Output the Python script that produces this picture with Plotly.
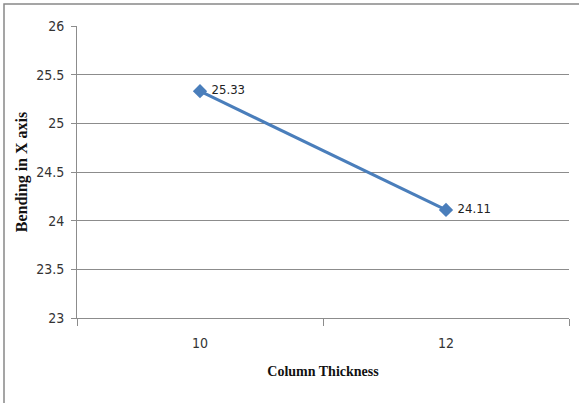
import plotly.graph_objects as go

# Column thickness categories and the bending values measured along X
thickness = ["10", "12"]
bending_x = [25.33, 24.11]
label_text = ["25.33", "24.11"]

y_ticks = [23, 23.5, 24, 24.5, 25, 25.5, 26]

line_blue = "#4A7EBB"
grid_gray = "#8C8C8C"
label_font = "DejaVu Sans Condensed, Liberation Sans Narrow, Arial Narrow, sans-serif"
title_font = "Liberation Serif, Times New Roman, serif"

fig = go.Figure()
fig.add_trace(go.Scatter(
    x=thickness,
    y=bending_x,
    mode="lines+markers+text",
    text=[" " + t for t in label_text],
    textposition="middle right",
    textfont=dict(family=label_font, size=13, color="#222222"),
    line=dict(color=line_blue, width=3),
    marker=dict(symbol="diamond", size=11, color=line_blue),
    cliponaxis=False,
    showlegend=False,
))

fig.update_layout(
    width=579,
    height=403,
    margin=dict(l=77, r=10, t=26, b=85),
    paper_bgcolor="white",
    plot_bgcolor="white",
    font=dict(family=label_font, size=13, color="#333333"),
    xaxis=dict(
        type="category",
        range=[-0.5, 1.5],
        tickson="boundaries",
        ticks="outside",
        ticklen=7,
        tickcolor=grid_gray,
        ticklabelstandoff=12,
        showline=True,
        linecolor=grid_gray,
        linewidth=1,
        showgrid=False,
        tickfont=dict(size=14),
        title=dict(
            text="Column Thickness",
            font=dict(family=title_font, size=14, color="#111111", weight="bold"),
            standoff=16,
        ),
    ),
    yaxis=dict(
        range=[23, 26],
        tickvals=y_ticks,
        ticktext=[f"{v:g}" for v in y_ticks],
        ticks="outside",
        ticklen=5,
        tickcolor=grid_gray,
        ticklabelstandoff=4,
        showline=True,
        linecolor=grid_gray,
        linewidth=1,
        showgrid=True,
        gridcolor=grid_gray,
        gridwidth=1,
        zeroline=False,
        tickfont=dict(size=14),
        title=dict(
            text="Bending in X axis",
            font=dict(family=title_font, size=16, color="#111111", weight="bold"),
            standoff=4,
        ),
    ),
)

# Chart frame (right and bottom edges run past the page)
fig.add_shape(type="rect", xref="paper", yref="paper",
              x0=-73 / 492, x1=1 + 30 / 492, y0=-100 / 292, y1=1 + 22 / 292,
              line=dict(color="#888888", width=1.5), layer="below")

fig.write_html("out.html")
